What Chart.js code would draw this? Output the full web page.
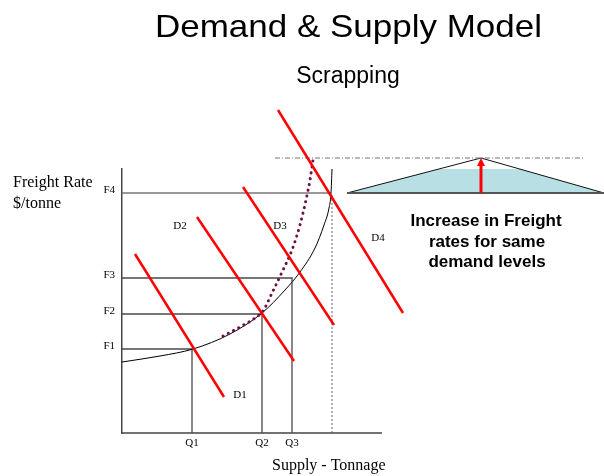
<!DOCTYPE html>
<html>
<head>
<meta charset="utf-8">
<script src="https://cdn.jsdelivr.net/npm/chart.js@4.4.1/dist/chart.umd.min.js"></script>
<style>
  html, body { margin: 0; padding: 0; background: #fff; }
  #wrap { width: 604px; height: 476px; }
</style>
</head>
<body>
<div id="wrap"><canvas id="chart"></canvas></div>
<script>
// levels (chart units: quantity across, freight rate up)
const qLevels = [35, 70, 85];
const qLabels = ["Q1", "Q2", "Q3"];
const fLevels = [42, 59.5, 77.5, 120];
const fLabels = ["F1", "F2", "F3", "F4"];
const capacityQ = 105;
const axisQ = 130;

// supply curve
const supplyQ = [0, 19, 35.5, 54, 70, 81.5, 89, 96.5, 101, 103.5, 104.5, 105];
const supplyF = [35.5, 38.5, 42, 49.5, 60, 71.5, 80.5, 92.5, 104, 112.5, 120, 132];

// supply curve after scrapping (dotted)
const scrapQ = [50.5, 59, 66.5, 70.5, 75, 80.5, 85, 89, 92, 94, 95.5];
const scrapF = [48.5, 53, 57.5, 61, 70, 81.5, 91.5, 104, 116.5, 126.5, 136.5];

// demand lines, start and end
const demandNames = ["D1", "D2", "D3", "D4"];
const demandQ = [[6.5, 51], [37.5, 86], [60.5, 106], [78, 140.5]];
const demandF = [[89.5, 18], [108, 36], [123, 54], [161.5, 60]];
const demandLabelQ = [59, 29, 79, 128];
const demandLabelF = [19, 103.5, 103.5, 97.5];

// inset triangle and reference line
const triQ = [112.5, 179.5, 241];
const triF = [120, 137.5, 120];
const refQ = [76.5, 231.5];
const refF = 137.5;
const arrowQ = 179.5;
const arrowF = [120, 134.5];

const SERIF = '"Liberation Serif", "Times New Roman", serif';
const SANS = '"Liberation Sans", Arial, sans-serif';

function pts(qs, fs) {
  return qs.map((q, i) => ({ x: q, y: fs[i] }));
}

function line(data, color, width, extra) {
  return Object.assign({
    data: data,
    borderColor: color,
    borderWidth: width,
    pointRadius: 0,
    tension: 0,
    fill: false,
    clip: false
  }, extra || {});
}

const datasets = [];

// red demand lines on top
demandQ.forEach((qs, i) => {
  datasets.push(line(pts(qs, demandF[i]), "#ff0000", 2.5));
});

datasets.push(line(pts(scrapQ, scrapF), "#6e0f46", 3, {
  borderDash: [0.1, 5.8],
  borderCapStyle: "round",
  cubicInterpolationMode: "monotone"
}));

datasets.push(line(pts(supplyQ, supplyF), "#000", 1, {
  cubicInterpolationMode: "monotone"
}));

// F/Q boxes
qLevels.forEach((q, i) => {
  datasets.push(line([{ x: 0, y: fLevels[i] }, { x: q, y: fLevels[i] }, { x: q, y: 0 }], "#4a4a4a", 1.3));
});
datasets.push(line([{ x: 0, y: fLevels[3] }, { x: 104.5, y: fLevels[3] }], "#777", 1.5));

// capacity limit
datasets.push(line([{ x: capacityQ, y: 0 }, { x: capacityQ, y: fLevels[3] }], "#666", 1, {
  borderDash: [2, 2]
}));

// x axis line
datasets.push(line([{ x: 0, y: 0 }, { x: axisQ, y: 0 }], "#444", 1.5));

// arrow shaft
datasets.push(line([{ x: arrowQ, y: arrowF[0] }, { x: arrowQ, y: arrowF[1] }], "#ff0000", 3));

// reference dash-dot line
datasets.push(line(pts(refQ, [refF, refF]), "#777", 1, {
  borderDash: [5, 2, 1, 2]
}));

// triangle base and body
datasets.push(line(pts([triQ[0], triQ[2]], [triF[0], triF[2]]), "#555", 2));
datasets.push(line(pts(triQ, triF), "#111", 1, {
  fill: { target: { value: fLevels[3] } },
  backgroundColor: "#b8dfe4"
}));

const textPlugin = {
  id: "texts",
  afterDatasetsDraw(chart) {
    const { ctx, scales: { x, y } } = chart;
    ctx.save();

    // arrow head at the reference level
    const ax = x.getPixelForValue(arrowQ);
    const tip = y.getPixelForValue(refF);
    ctx.fillStyle = "#ff0000";
    ctx.beginPath();
    ctx.moveTo(ax, tip);
    ctx.lineTo(ax - 4, tip + 8);
    ctx.lineTo(ax + 4, tip + 8);
    ctx.closePath();
    ctx.fill();

    ctx.fillStyle = "#000";

    // title, stretched to the reference width
    ctx.font = "32px " + SANS;
    ctx.textBaseline = "alphabetic";
    ctx.textAlign = "left";
    const title = "Demand & Supply Model";
    const tw = ctx.measureText(title).width;
    ctx.save();
    ctx.translate(155, 37);
    ctx.scale(387 / tw, 1);
    ctx.fillText(title, 0, 0);
    ctx.restore();

    ctx.textAlign = "center";
    ctx.font = "23px " + SANS;
    ctx.fillText("Scrapping", 348, 83);

    ctx.font = "bold 17px " + SANS;
    ctx.fillText("Increase in Freight", 486, 226);
    ctx.fillText("rates for same", 487, 247);
    ctx.fillText("demand levels", 487, 267);

    ctx.textAlign = "left";
    ctx.font = "16px " + SERIF;
    ctx.fillText("Freight Rate", 13, 187);
    ctx.fillText("$/tonne", 13, 208);
    ctx.fillText("Supply - Tonnage", 272, 470);

    ctx.textAlign = "center";
    ctx.textBaseline = "middle";
    ctx.font = "11px " + SERIF;
    demandNames.forEach((n, i) => {
      ctx.fillText(n, x.getPixelForValue(demandLabelQ[i]), y.getPixelForValue(demandLabelF[i]));
    });
    ctx.restore();
  }
};

new Chart(document.getElementById("chart"), {
  type: "line",
  data: { datasets: datasets },
  options: {
    responsive: true,
    maintainAspectRatio: false,
    animation: false,
    layout: { autoPadding: false, padding: { left: 92, right: 0, top: 169, bottom: 23 } },
    plugins: {
      legend: { display: false },
      tooltip: { enabled: false }
    },
    scales: {
      x: {
        type: "linear",
        min: 0,
        max: 241,
        afterFit: s => { s.height = 20; },
        afterBuildTicks: s => { s.ticks = qLevels.map(v => ({ value: v })); },
        grid: { display: false, drawTicks: false },
        border: { display: false },
        ticks: {
          callback: (v, i) => qLabels[i],
          padding: 4,
          maxRotation: 0,
          autoSkip: false,
          color: "#000",
          font: { family: SERIF, size: 11 }
        }
      },
      y: {
        type: "linear",
        min: 0,
        max: 132,
        afterFit: s => { s.width = 30; },
        afterBuildTicks: s => { s.ticks = fLevels.map(v => ({ value: v })); },
        grid: { display: false, drawTicks: false },
        border: { display: true, color: "#444", width: 1.5 },
        ticks: {
          callback: (v, i) => fLabels[i],
          padding: 7,
          labelOffset: -3,
          autoSkip: false,
          color: "#000",
          font: { family: SERIF, size: 11 }
        }
      }
    }
  },
  plugins: [textPlugin]
});
</script>
</body>
</html>
